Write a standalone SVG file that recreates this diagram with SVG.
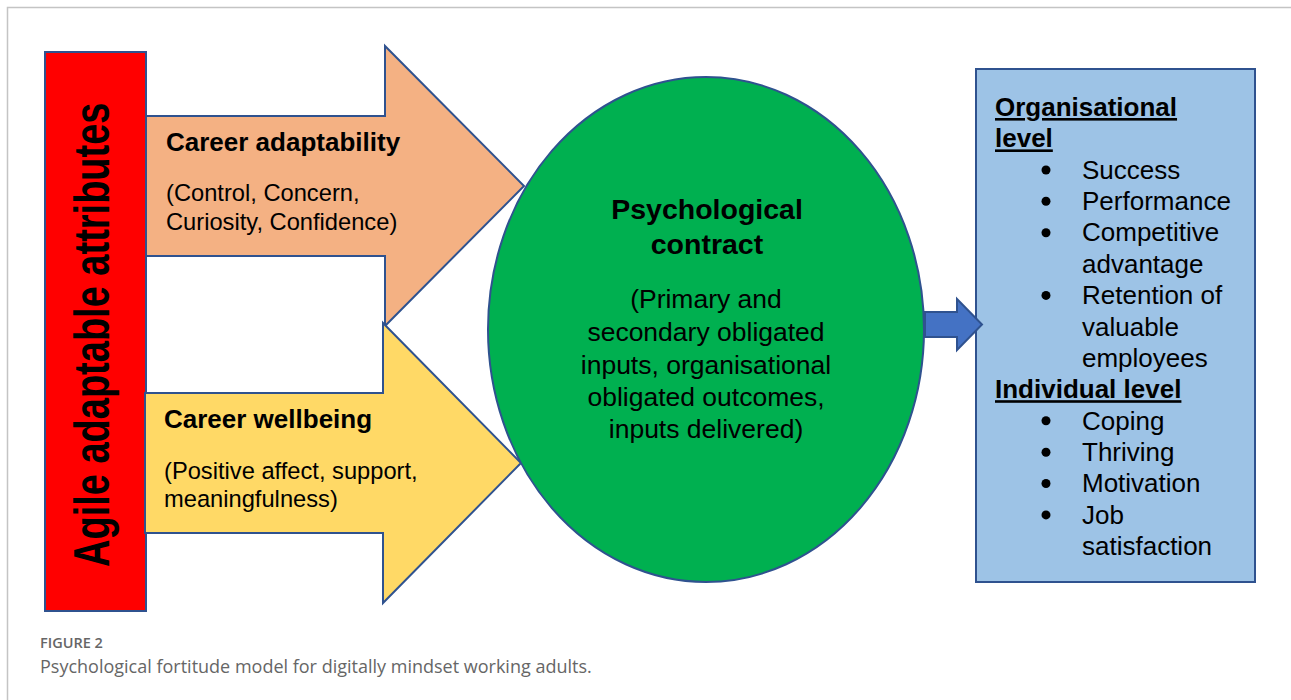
<svg xmlns="http://www.w3.org/2000/svg" width="1291" height="700" viewBox="0 0 1291 700">
<style>
.sh{stroke:#2F528F;stroke-width:2;stroke-linejoin:miter}
.b{font-family:"Liberation Sans",Arial,sans-serif;font-weight:bold;fill:#000}
.r{font-family:"Liberation Sans",Arial,sans-serif;fill:#000}
.ul{text-decoration:underline}
.cap{font-family:"Open Sans","Noto Sans",sans-serif;fill:#666}
</style>
<rect width="1291" height="700" fill="#fff"/>
<path d="M7.5,700 V7.5 H1291" fill="none" stroke="#c4c4c4" stroke-width="1.5"/>

<g id="agile">
<rect class="sh" x="45" y="52" width="101" height="559" fill="#FF0000"/>
<text class="b" font-size="38" transform="translate(109,567) rotate(-90) scale(1,1.3)">Agile adaptable attributes</text>
</g>

<g id="career-adaptability">
<polygon class="sh" points="146,116 385,116 385,46 524,186 385,326 385,256 146,256" fill="#F4B183"/>
<text class="b" x="166" y="150.5" font-size="26">Career adaptability</text>
<text class="r" x="166" y="201" font-size="23.7">(Control, Concern,</text>
<text class="r" x="166" y="229.5" font-size="23.7">Curiosity, Confidence)</text>
</g>

<g id="career-wellbeing">
<polygon class="sh" points="145,393 383,393 383,323 521,463 383,603 383,533 145,533" fill="#FFD966"/>
<text class="b" x="164" y="428" font-size="26">Career wellbeing</text>
<text class="r" x="164" y="478.5" font-size="23.7">(Positive affect, support,</text>
<text class="r" x="164" y="507" font-size="23.7">meaningfulness)</text>
</g>

<g id="psychological-contract">
<ellipse class="sh" cx="706" cy="329.5" rx="218" ry="252.5" fill="#00B050"/>
<g text-anchor="middle">
<text class="b" x="707" y="219" font-size="28.5">Psychological</text>
<text class="b" x="707" y="254" font-size="28.5">contract</text>
<text class="r" x="706" y="308" font-size="26.5">(Primary and</text>
<text class="r" x="706" y="341" font-size="26.5">secondary obligated</text>
<text class="r" x="706" y="374" font-size="26.5">inputs, organisational</text>
<text class="r" x="706" y="406" font-size="26.5">obligated outcomes,</text>
<text class="r" x="706" y="438" font-size="26.5">inputs delivered)</text>
</g>
</g>

<g id="outcomes">
<rect class="sh" x="976" y="69" width="279" height="513" fill="#9DC3E6"/>
<g font-size="26">
<text class="b ul" x="995" y="116">Organisational</text>
<text class="b ul" x="995" y="147.4">level</text>
<text class="r" x="1082" y="178.7">Success</text>
<text class="r" x="1082" y="210">Performance</text>
<text class="r" x="1082" y="241.4">Competitive</text>
<text class="r" x="1082" y="272.8">advantage</text>
<text class="r" x="1082" y="304.1">Retention of</text>
<text class="r" x="1082" y="335.5">valuable</text>
<text class="r" x="1082" y="366.8">employees</text>
<text class="b ul" x="995" y="398.2">Individual level</text>
<text class="r" x="1082" y="429.5">Coping</text>
<text class="r" x="1082" y="460.9">Thriving</text>
<text class="r" x="1082" y="492.2">Motivation</text>
<text class="r" x="1082" y="523.6">Job</text>
<text class="r" x="1082" y="554.9">satisfaction</text>
</g>
<g fill="#000">
<circle cx="1046" cy="170" r="4.5"/>
<circle cx="1046" cy="201.3" r="4.5"/>
<circle cx="1046" cy="232.7" r="4.5"/>
<circle cx="1046" cy="295.4" r="4.5"/>
<circle cx="1046" cy="420.8" r="4.5"/>
<circle cx="1046" cy="452.2" r="4.5"/>
<circle cx="1046" cy="483.5" r="4.5"/>
<circle cx="1046" cy="514.9" r="4.5"/>
</g>
</g>

<g id="connectors">
<polygon class="sh" points="925,312 957,312 957,299 982,324.5 957,350 957,337 925,337" fill="#4472C4"/>
</g>

<g id="caption">
<text class="cap" x="40" y="648" font-size="14.5" font-weight="600">FIGURE 2</text>
<text class="cap" x="40" y="673" font-size="18">Psychological fortitude model for digitally mindset working adults.</text>
</g>
</svg>
